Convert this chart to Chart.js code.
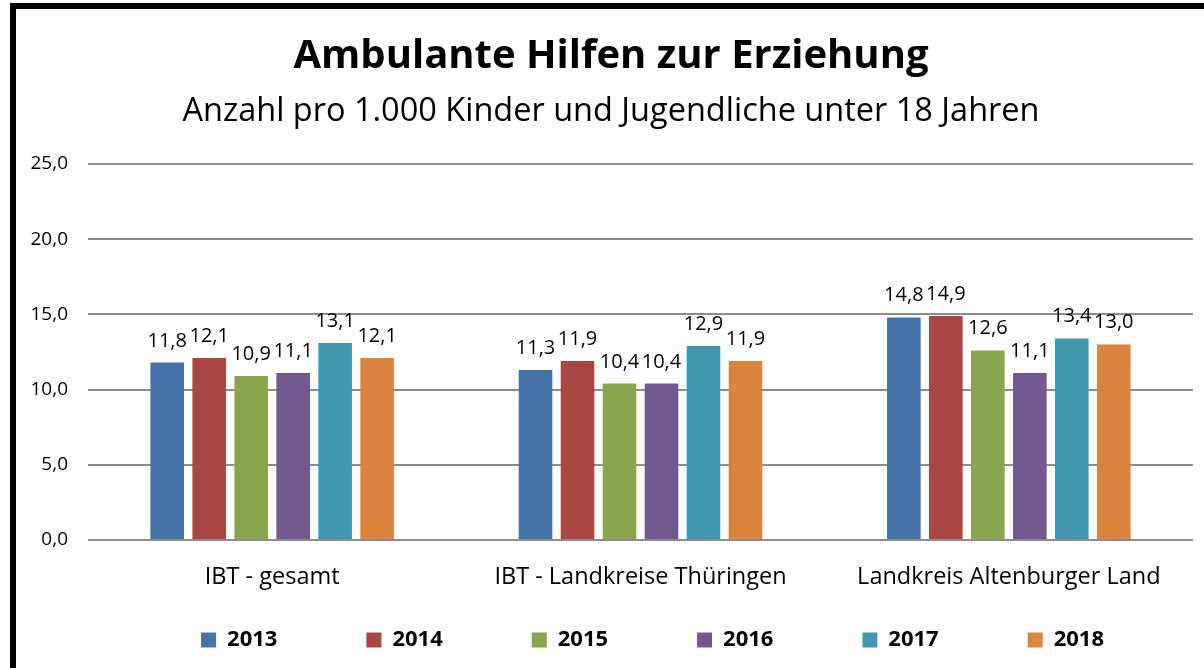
<!DOCTYPE html>
<html lang="de">
<head>
<meta charset="utf-8">
<title>Ambulante Hilfen zur Erziehung</title>
<script src="https://cdn.jsdelivr.net/npm/chart.js@4.4.1/dist/chart.umd.min.js"></script>
<style>
  html, body { margin: 0; padding: 0; background: #fff; overflow: hidden; }
  #wrap { position: relative; width: 1204px; height: 668px; }
  #chart { position: absolute; left: 0; top: 0; }
  /* black frame: only top and left edges are visible in the picture */
  #frame {
    position: absolute; left: 10px; top: 3px; width: 1300px; height: 800px;
    border-top: 6px solid #000; border-left: 6px solid #000;
    pointer-events: none;
  }
</style>
</head>
<body>
<div id="wrap">
  <canvas id="chart" width="1204" height="668"></canvas>
  <div id="frame"></div>
</div>
<script>
const categories = ['IBT - gesamt', 'IBT - Landkreise Thüringen', 'Landkreis Altenburger Land'];
const years = ['2013', '2014', '2015', '2016', '2017', '2018'];

// one array per year, values per category
const values2013 = [11.8, 11.3, 14.8];
const values2014 = [12.1, 11.9, 14.9];
const values2015 = [10.9, 10.4, 12.6];
const values2016 = [11.1, 10.4, 11.1];
const values2017 = [13.1, 12.9, 13.4];
const values2018 = [12.1, 11.9, 13.0];

const yTicks = [0, 5, 10, 15, 20, 25];

const COLORS = ['#4572A7', '#AA4643', '#89A54E', '#71588F', '#4198AF', '#DB843D'];
const FONT = 'Open Sans';

const seriesValues = [values2013, values2014, values2015, values2016, values2017, values2018];

// German decimal format: 11.8 -> "11,8"
const fmt = v => Number(v).toFixed(1).replace('.', ',');

// Draw the value above each bar (no datalabels plugin available)
const valueLabels = {
  id: 'valueLabels',
  afterDatasetsDraw(chart) {
    const { ctx } = chart;
    ctx.save();
    ctx.font = `20px "${FONT}"`;
    ctx.fillStyle = '#000';
    ctx.textAlign = 'center';
    ctx.textBaseline = 'alphabetic';
    chart.data.datasets.forEach((ds, i) => {
      chart.getDatasetMeta(i).data.forEach((bar, j) => {
        ctx.fillText(fmt(ds.data[j]), bar.x, bar.y - 16);
      });
    });
    ctx.restore();
  },
};

new Chart(document.getElementById('chart'), {
  type: 'bar',
  data: {
    labels: categories,
    datasets: years.map((year, i) => ({
      label: year,
      data: seriesValues[i],
      backgroundColor: COLORS[i],
      borderWidth: 0,
      categoryPercentage: 0.684,
      barPercentage: 0.8,
    })),
  },
  options: {
    responsive: false,
    animation: false,
    devicePixelRatio: 1,
    layout: { padding: { left: 29, right: 11, top: 0, bottom: 7 } },
    scales: {
      x: {
        grid: { display: false },
        border: { display: false },
        ticks: {
          padding: 15,
          color: '#000',
          font: { family: FONT, size: 23.5 },
        },
        afterFit: s => { s.height = 53; },
      },
      y: {
        min: 0,
        max: 25,
        afterBuildTicks: s => { s.ticks = yTicks.map(v => ({ value: v })); },
        afterFit: s => { s.width = 59; },
        grid: { color: '#8c8c8c', lineWidth: 2, drawTicks: false },
        border: { display: false },
        ticks: {
          padding: 20,
          color: '#000',
          font: { family: FONT, size: 19 },
          callback: v => fmt(v),
        },
      },
    },
    plugins: {
      title: {
        display: true,
        text: 'Ambulante Hilfen zur Erziehung',
        color: '#000',
        font: { family: FONT, size: 40, weight: 'bold', lineHeight: 1.2 },
        padding: { top: 33, bottom: 0 },
      },
      subtitle: {
        display: true,
        text: 'Anzahl pro 1.000 Kinder und Jugendliche unter 18 Jahren',
        color: '#000',
        font: { family: FONT, size: 32.5, weight: 'normal', lineHeight: 1.2 },
        padding: { top: 11, bottom: 33 },
      },
      legend: {
        position: 'bottom',
        align: 'end',
        // the label padding also sets the gap between items; an empty title
        // with negative padding pulls the row back up
        title: { display: true, text: '', padding: { top: -67.4, bottom: 0 } },
        labels: {
          boxWidth: 15,
          boxHeight: 15,
          padding: 89,
          color: '#000',
          font: { family: FONT, size: 22, weight: 'bold' },
        },
      },
      tooltip: { enabled: false },
    },
  },
  plugins: [valueLabels],
});
</script>
</body>
</html>
